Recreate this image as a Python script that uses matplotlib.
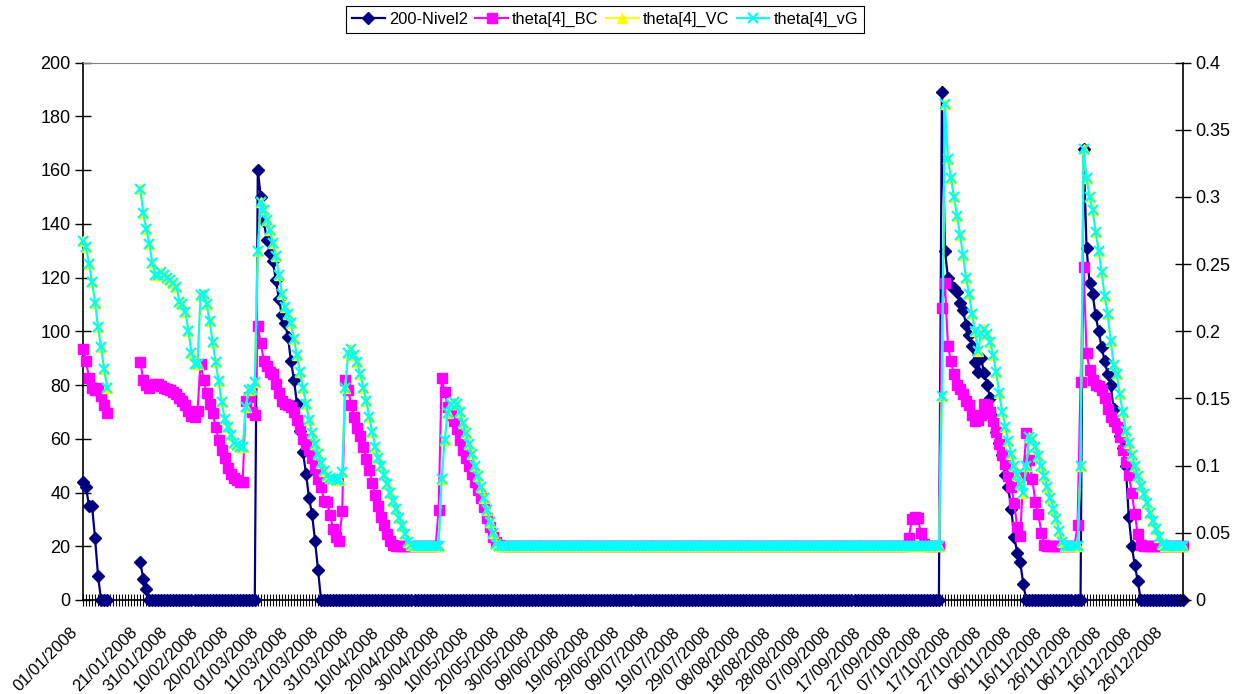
import numpy as np
import pandas as pd
import matplotlib.pyplot as plt
from matplotlib.transforms import ScaledTranslation

plt.rcParams['font.family'] = ['Liberation Sans', 'DejaVu Sans']

dates = pd.date_range('2008-01-01', '2008-12-31', freq='D')

# (start day index, values) - days 9..18 have no data
nivel2_segments = [
    (0, [44, 42, 35, 35, 23, 9, 0, 0, 0]),
    (19, [14, 8, 4]),
    (22, [0] * 36),
    (58, [160, 150, 141, 134, 129, 126, 119, 112, 106, 103, 98, 89, 82, 73, 63,
          55, 47, 38, 32, 22, 11, 0]),
    (80, [0] * 205),
    (285, [189, 130, 120, 117, 116, 114.5, 110.5, 108, 102.5, 98.5, 94.5, 88.5, 85,
           90, 84.5, 80, 75, 68, 62.5, 58.5, 54, 46.5, 42, 34, 23.5, 17.5, 14, 6, 0]),
    (314, [0] * 18),
    (332, [168, 131, 118, 114, 106, 100, 94, 89, 84, 80, 71, 65, 61, 56.5, 50, 31,
           20, 13, 7, 0]),
    (352, [0] * 14),
]

theta_bc_segments = [
    (0, [0.187, 0.178, 0.165, 0.158, 0.156, 0.158, 0.152, 0.145, 0.139]),
    (19, [0.177, 0.164, 0.160, 0.158, 0.160, 0.161, 0.161, 0.159, 0.158, 0.157,
          0.156, 0.155, 0.153, 0.150, 0.148, 0.145, 0.141, 0.137, 0.136, 0.141]),
    (39, [0.176, 0.164, 0.154, 0.146, 0.139, 0.129, 0.119, 0.112, 0.106, 0.098,
          0.094, 0.091, 0.089, 0.088]),
    (53, [0.088, 0.148, 0.151, 0.140, 0.138, 0.204]),
    (59, [0.191, 0.178, 0.174, 0.170, 0.168, 0.161, 0.154, 0.148, 0.146, 0.145,
          0.144, 0.140, 0.134, 0.128, 0.120, 0.116, 0.112, 0.106, 0.098, 0.090,
          0.084, 0.074, 0.073, 0.063, 0.053, 0.047, 0.044, 0.066, 0.164]),
    (88, [0.156, 0.145, 0.136, 0.128, 0.122, 0.114, 0.105, 0.097, 0.087, 0.078,
          0.070, 0.062, 0.056, 0.049, 0.044, 0.041, 0.040]),
    (105, [0.040] * 13),
    (118, [0.067, 0.165, 0.155, 0.144, 0.138, 0.133, 0.127, 0.119, 0.112, 0.106,
           0.100, 0.094, 0.088, 0.082, 0.076, 0.069, 0.061, 0.054, 0.047, 0.043,
           0.041, 0.040]),
    (140, [0.040] * 134),
    (274, [0.046, 0.060, 0.062, 0.061, 0.050, 0.042]),
    (280, [0.040] * 5),
    (285, [0.217, 0.236, 0.189, 0.178, 0.168, 0.160, 0.157, 0.153, 0.148, 0.145,
           0.138, 0.133, 0.134, 0.138, 0.146, 0.145, 0.140, 0.133, 0.125, 0.116,
           0.108, 0.101, 0.092, 0.084, 0.072, 0.054, 0.048, 0.093, 0.124, 0.104,
           0.090, 0.073, 0.064, 0.050, 0.041]),
    (320, [0.040] * 10),
    (330, [0.056, 0.162, 0.248]),
    (333, [0.184, 0.171, 0.164, 0.160, 0.159, 0.156, 0.150, 0.142, 0.136, 0.133,
           0.129, 0.121, 0.112, 0.103, 0.093, 0.080, 0.064, 0.049, 0.041]),
    (352, [0.040] * 14),
]

theta_vg_segments = [
    (0, [0.267, 0.263, 0.250, 0.237, 0.221, 0.203, 0.188, 0.172, 0.158]),
    (19, [0.306, 0.288, 0.276, 0.265, 0.251, 0.242, 0.242, 0.244, 0.242, 0.240,
          0.238, 0.236, 0.233, 0.222, 0.220, 0.214, 0.200, 0.184, 0.176, 0.176]),
    (39, [0.227, 0.228, 0.220, 0.208, 0.192, 0.177, 0.163, 0.147, 0.135, 0.129,
          0.123, 0.117, 0.115, 0.114, 0.114]),
    (54, [0.144, 0.156, 0.157, 0.162, 0.260, 0.296]),
    (60, [0.290, 0.283, 0.275, 0.266, 0.256, 0.242, 0.228, 0.218, 0.213, 0.206,
          0.194, 0.182, 0.170, 0.158, 0.146, 0.134, 0.124, 0.116, 0.109, 0.102,
          0.096, 0.092, 0.091, 0.090, 0.089, 0.089, 0.095, 0.158, 0.184, 0.187]),
    (90, [0.182, 0.177, 0.168, 0.158, 0.148, 0.136, 0.125, 0.114, 0.106, 0.100,
          0.093, 0.086, 0.080, 0.074, 0.068, 0.061, 0.055, 0.049, 0.043, 0.041,
          0.040]),
    (111, [0.040] * 8),
    (119, [0.090, 0.119, 0.139, 0.146, 0.147, 0.146, 0.140, 0.132, 0.124, 0.116,
           0.109, 0.100, 0.092, 0.084, 0.076, 0.067, 0.058, 0.050, 0.042, 0.040]),
    (139, [0.040] * 146),
    (285, [0.152, 0.369]),
    (287, [0.328, 0.314, 0.300, 0.286, 0.272, 0.257, 0.240, 0.228, 0.213, 0.200,
           0.185, 0.199, 0.202, 0.198, 0.192, 0.182, 0.170, 0.154, 0.140, 0.129,
           0.118, 0.109, 0.100, 0.093, 0.086, 0.080, 0.100, 0.121, 0.120, 0.114,
           0.107, 0.100, 0.092, 0.084, 0.076, 0.068, 0.060, 0.051, 0.043]),
    (326, [0.040] * 5),
    (331, [0.100, 0.336]),
    (333, [0.314, 0.300, 0.290, 0.274, 0.260, 0.244, 0.226, 0.213, 0.193, 0.175,
           0.168, 0.153, 0.140, 0.126, 0.117, 0.108, 0.100, 0.092, 0.085, 0.079,
           0.072, 0.065, 0.059, 0.053, 0.047, 0.042, 0.040]),
    (360, [0.040] * 6),
]

# theta[4]_VC sits right under theta[4]_vG in the picture
theta_vc_segments = theta_vg_segments


def build(segments):
    y = np.full(len(dates), np.nan)
    for start, vals in segments:
        y[start:start + len(vals)] = vals
    return y


x = np.arange(len(dates))
nivel2 = build(nivel2_segments)
theta_bc = build(theta_bc_segments)
theta_vc = build(theta_vc_segments)
theta_vg = build(theta_vg_segments)

fig = plt.figure(figsize=(12.37, 6.94), dpi=100)
ax = fig.add_axes([83 / 1237, 94 / 694, 1100 / 1237, 537.5 / 694])
ax2 = ax.twinx()

l1, = ax.plot(x, nivel2, color='#000080', lw=1.6, marker='D', ms=6,
              clip_on=False, zorder=3)
l2, = ax2.plot(x, theta_bc, color='#FF00FF', lw=1.5, marker='s', ms=6.5,
               clip_on=False, zorder=3)
l3, = ax2.plot(x, theta_vc, color='#FFFF00', lw=1.5, marker='^', ms=6.5,
               clip_on=False, zorder=4)
l4, = ax2.plot(x, theta_vg, color='#00FFFF', lw=1.5, marker='x', ms=6.5, mew=1.6,
               clip_on=False, zorder=5)

ax.set_xlim(0, len(dates) - 1)
ax.set_ylim(0, 200)
ax2.set_ylim(0, 0.4)

ax.set_yticks(np.arange(0, 201, 20))
ax2.set_yticks(np.arange(0, 0.41, 0.05))
ax2.set_yticklabels(['0', '0.05', '0.1', '0.15', '0.2', '0.25', '0.3', '0.35', '0.4'])

major = np.arange(0, len(dates), 10)
labels = [dates[i].strftime('%d/%m/%Y') for i in major]
labels[1] = ''
ax.set_xticks(major)
ax.set_xticklabels(labels, rotation=45, ha='right', va='center',
                   rotation_mode='anchor')
ax.set_xticks(x, minor=True)

ax.tick_params(axis='x', which='both', direction='inout', length=9, width=0.8,
               labelsize=12, pad=17)
ax.tick_params(axis='y', direction='inout', length=11, width=1, labelsize=13)
ax2.tick_params(axis='y', direction='inout', length=11, width=1, labelsize=13)

shift = ScaledTranslation(-8 / 100, 0, fig.dpi_scale_trans)
for lbl in ax.get_xticklabels():
    lbl.set_transform(lbl.get_transform() + shift)

for s in ['left', 'bottom']:
    ax.spines[s].set_color('black')
    ax.spines[s].set_linewidth(1.2)
ax.spines['right'].set_visible(False)
ax.spines['top'].set_color('#808080')
ax.spines['top'].set_linewidth(0.8)
ax2.spines['right'].set_linewidth(1.2)
ax2.spines['left'].set_visible(False)
ax2.spines['bottom'].set_visible(False)
ax2.spines['top'].set_visible(False)

leg = fig.legend([l1, l2, l3, l4],
                 ['200-Nivel2', 'theta[4]_BC', 'theta[4]_VC', 'theta[4]_vG'],
                 loc='center', bbox_to_anchor=(605 / 1237, 1 - 19.5 / 694),
                 ncol=4, fontsize=11.8, frameon=True, fancybox=False,
                 edgecolor='black', framealpha=1, borderpad=0.35,
                 handlelength=2.0, handletextpad=0.25, columnspacing=0.45)
leg.get_frame().set_linewidth(0.8)

fig.savefig('out.png', dpi=100)
